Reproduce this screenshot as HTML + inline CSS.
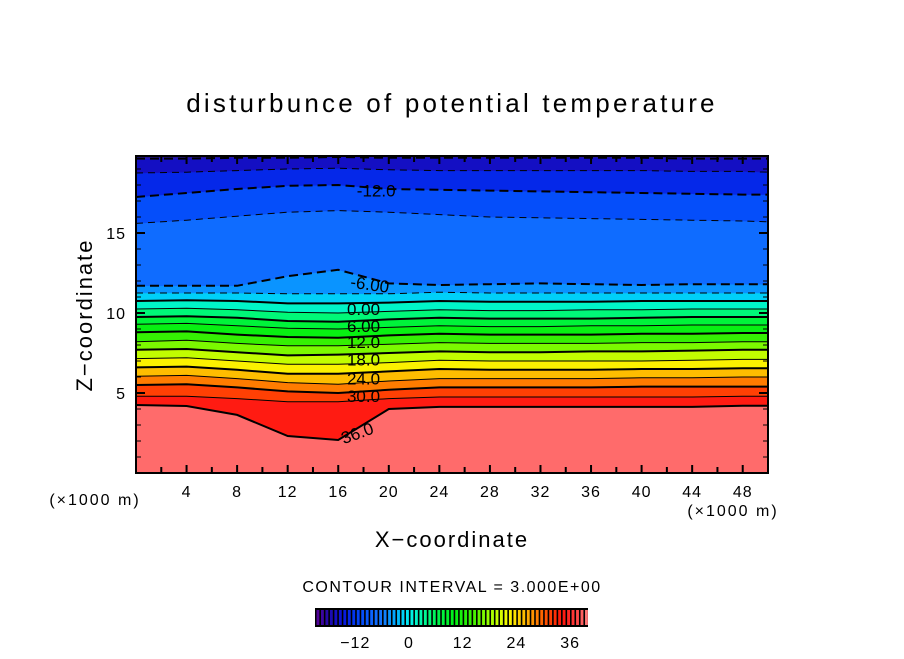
<!DOCTYPE html>
<html><head><meta charset="utf-8">
<style>
body{margin:0;background:#fff;}
svg text{font-family:"Liberation Sans",sans-serif;fill:#000;}
</style></head>
<body>
<svg id="chart" width="904" height="654" viewBox="0 0 904 654" xmlns="http://www.w3.org/2000/svg">
<rect x="0" y="0" width="904" height="654" fill="#fff"/>
<text x="452" y="112" font-size="26" text-anchor="middle" letter-spacing="3.2">disturbunce of potential temperature</text>
<g id="plot"></g>
<g id="axes"></g>
<text x="95" y="505" font-size="16" text-anchor="middle" letter-spacing="2">(×1000 m)</text>
<text x="733" y="516" font-size="16" text-anchor="middle" letter-spacing="2">(×1000 m)</text>
<text x="452" y="547" font-size="22" text-anchor="middle" letter-spacing="2">X−coordinate</text>
<text x="0" y="0" font-size="22" text-anchor="middle" letter-spacing="2" transform="translate(92,315) rotate(-90)">Z−coordinate</text>
<text x="452" y="592" font-size="16" text-anchor="middle" letter-spacing="1.5">CONTOUR INTERVAL = 3.000E+00</text>
<g id="cbar"></g>
</svg>
<script>
// ---- data ----
const xs = [0,4,8,12,16,20,24,28,32,36,40,44,48,50];
const levels = [36,33,30,27,24,21,18,15,12,9,6,3,0,-3,-6,-9,-12,-15,-18];
const z36 = [4.25,4.19,3.63,2.31,2.06,4.0,4.13,4.13,4.13,4.13,4.13,4.13,4.2,4.2];
const z33 = [4.8,4.8,4.65,4.45,4.45,4.65,4.75,4.75,4.75,4.75,4.75,4.75,4.8,4.8];
const z30 = [5.5,5.55,5.35,5.1,5.0,5.2,5.35,5.35,5.35,5.35,5.4,5.4,5.4,5.4];
const z27 = [6.05,6.1,5.9,5.65,5.55,5.75,5.9,5.9,5.9,5.9,5.95,5.95,6.0,6.0];
const z24 = [6.6,6.65,6.45,6.2,6.2,6.35,6.5,6.45,6.45,6.45,6.5,6.5,6.55,6.55];
const z21 = [7.15,7.2,7.0,6.8,6.8,6.9,7.05,7.0,7.0,7.0,7.0,7.05,7.1,7.1];
const z18 = [7.7,7.75,7.55,7.35,7.4,7.5,7.6,7.55,7.55,7.6,7.6,7.65,7.7,7.7];
const z15 = [8.2,8.3,8.1,7.95,7.95,8.05,8.15,8.1,8.1,8.1,8.15,8.15,8.2,8.2];
const z12 = [8.8,8.85,8.65,8.5,8.45,8.6,8.7,8.65,8.65,8.65,8.7,8.7,8.75,8.75];
const z9  = [9.3,9.35,9.2,9.05,9.0,9.1,9.2,9.15,9.15,9.2,9.2,9.25,9.25,9.25];
const z6  = [9.75,9.8,9.7,9.5,9.45,9.6,9.7,9.65,9.65,9.65,9.7,9.75,9.75,9.75];
const z3  = [10.25,10.3,10.2,10.05,10.0,10.1,10.2,10.15,10.15,10.2,10.2,10.25,10.25,10.25];
const z0  = [10.75,10.8,10.75,10.6,10.6,10.65,10.75,10.7,10.7,10.7,10.75,10.75,10.75,10.75];
const zm3 = [11.25,11.25,11.25,11.2,11.2,11.2,11.3,11.25,11.25,11.25,11.25,11.25,11.25,11.25];
const zm6 = [11.7,11.7,11.7,12.3,12.7,11.85,11.75,11.8,11.85,11.8,11.75,11.8,11.8,11.8];
const zm9 = [15.6,15.8,16.05,16.3,16.4,16.3,16.15,16.0,15.95,15.9,15.85,15.8,15.75,15.7];
const zm12= [17.25,17.5,17.75,17.95,18.0,17.75,17.7,17.65,17.6,17.55,17.5,17.45,17.4,17.4];
const zm15= [18.75,18.8,18.9,19.0,19.05,18.95,18.9,18.9,18.9,18.9,18.9,18.85,18.85,18.8];
const zm18= [19.65,19.65,19.7,19.7,19.75,19.7,19.7,19.7,19.7,19.7,19.7,19.65,19.65,19.65];
const levelZ = [z36,z33,z30,z27,z24,z21,z18,z15,z12,z9,z6,z3,z0,zm3,zm6,zm9,zm12,zm15,zm18];
const labels = [{v:"36.0",x:17.5,z:2.5,r:-20},{v:"30.0",x:18,z:4.8,r:0},{v:"24.0",x:18,z:5.9,r:0},{v:"18.0",x:18,z:7.1,r:0},{v:"12.0",x:18,z:8.2,r:0},{v:"6.00",x:18,z:9.2,r:0},{v:"0.00",x:18,z:10.25,r:0},{v:"-6.00",x:18.5,z:11.8,r:8},{v:"-12.0",x:19,z:17.65,r:0}];
const xTicks = [4,8,12,16,20,24,28,32,36,40,44,48];
const yTicks = [5,10,15];
const cbarTicks = [-12,0,12,24,36];
const cbarMin = -21, cbarMax = 40;

// ---- axes mapping ----
const X0=136,X1=768,Y0=473,Y1=156, XMAX=50, ZMAX=(473-156)/16;
const sx = x => X0 + x/XMAX*(X1-X0);
const sz = z => Y0 - z/ZMAX*(Y0-Y1);
const NS="http://www.w3.org/2000/svg";
function mk(tag, attrs, parent){const e=document.createElementNS(NS,tag);for(const k in attrs)e.setAttribute(k,attrs[k]);parent.appendChild(e);return e;}

const stops=[[-21,[90,0,150]],[-18,[30,10,170]],[-15,[10,20,220]],[-12,[0,60,245]],[-9,[10,95,255]],[-6,[20,120,255]],[-3,[0,175,255]],[0,[0,240,240]],[3,[0,250,160]],[6,[0,245,80]],[10,[0,240,20]],[14,[60,240,0]],[18,[160,255,0]],[22,[250,250,0]],[26,[255,180,0]],[30,[255,90,0]],[34,[255,20,10]],[37,[255,60,60]],[40,[255,130,130]]];
function col(v){
  if(v<=stops[0][0])return `rgb(${stops[0][1]})`;
  for(let i=1;i<stops.length;i++){if(v<=stops[i][0]){const a=stops[i-1],b=stops[i],t=(v-a[0])/(b[0]-a[0]);const c=a[1].map((q,j)=>Math.round(q+(b[1][j]-q)*t));return `rgb(${c})`;}}
  return `rgb(${stops[stops.length-1][1]})`;
}

const plot=document.getElementById('plot');
function pts(arr){return xs.map((x,i)=>`${sx(x).toFixed(1)},${sz(arr[i]).toFixed(1)}`);}
{
  const p=mk('polygon',{points:[`${X0},${Y0}`,...pts(levelZ[0]),`${X1},${Y0}`].join(' '),fill:'#ff6b6b'},plot);
  
  
}
for(let k=0;k<levels.length-1;k++){
  const lower=pts(levelZ[k]), upper=pts(levelZ[k+1]).reverse();
  const p=mk('polygon',{points:[...lower,...upper].join(' '),fill:col(levels[k]-1.5),stroke:col(levels[k]-1.5),'stroke-width':0.5},plot);
  
  
}
{
  const top=pts(levelZ[levels.length-1]);
  const p=mk('polygon',{points:[...top,`${X1},${Y1}`,`${X0},${Y1}`].join(' '),fill:'#24129a'},plot);
  
  
}
levels.forEach((lv,k)=>{
  const thick = lv%6===0;
  const attrs={points:pts(levelZ[k]).join(' '),fill:'none',stroke:'#000','stroke-width':thick?2:1};
  if(lv<0) attrs['stroke-dasharray']=thick?'9,5':'7,5';
  const l=mk('polyline',attrs,plot);
  
  
});
labels.forEach(lb=>{
  const x=sx(lb.x), y=sz(lb.z);
  const t=mk('text',{x:x,y:y+6,'font-size':17,'text-anchor':'middle',transform:`rotate(${lb.r},${x},${y})`},plot);
  t.textContent=lb.v;
  
  
});
const axes=document.getElementById('axes');
{
  const f=mk('rect',{x:X0,y:Y1,width:X1-X0,height:Y0-Y1,fill:'none',stroke:'#000','stroke-width':2},axes);
  
  
}
for(let x=2;x<XMAX;x+=2){
  const L=(x%4===0)?8:6;
  const t1=mk('line',{x1:sx(x),x2:sx(x),y1:Y0,y2:Y0-L,stroke:'#000','stroke-width':2},axes);
  
  
  const t2=mk('line',{x1:sx(x),x2:sx(x),y1:Y1,y2:Y1+L,stroke:'#000','stroke-width':2},axes);
  
  
}
for(let z=1;z<ZMAX;z+=1){
  const L=(z%5===0)?9:5;
  const t1=mk('line',{x1:X0,x2:X0+L,y1:sz(z),y2:sz(z),stroke:'#000','stroke-width':(z%5===0)?2:1},axes);
  
  
  const t2=mk('line',{x1:X1,x2:X1-L,y1:sz(z),y2:sz(z),stroke:'#000','stroke-width':(z%5===0)?2:1},axes);
  
  
}
xTicks.forEach(v=>{
  const t=mk('text',{x:sx(v),y:497,'font-size':16,'text-anchor':'middle','letter-spacing':1},axes);
  t.textContent=v;
  
  
});
yTicks.forEach(v=>{
  const t=mk('text',{x:126,y:sz(v)+6,'font-size':16,'text-anchor':'end','letter-spacing':1},axes);
  t.textContent=v;
  
  
});
const cb=document.getElementById('cbar');
const CX0=315,CX1=588,CY0=608,CY1=627;
const cs=v=>CX0+(v-cbarMin)/(cbarMax-cbarMin)*(CX1-CX0);
{
  const r=mk('rect',{x:CX0,y:CY0,width:CX1-CX0,height:CY1-CY0,fill:'#000'},cb);
  
  
}
for(let v=cbarMin;v<cbarMax;v++){
  const r=mk('rect',{x:cs(v)+1.5,y:CY0+2,width:cs(v+1)-cs(v)-1.6,height:CY1-CY0-4,fill:col(v+0.5)},cb);
  
  
}
cbarTicks.forEach(v=>{
  const t=mk('text',{x:cs(v),y:648,'font-size':16,'text-anchor':'middle','letter-spacing':1},cb);
  t.textContent=v<0?'−'+Math.abs(v):v;
  
  
});
</script>
</body></html>
